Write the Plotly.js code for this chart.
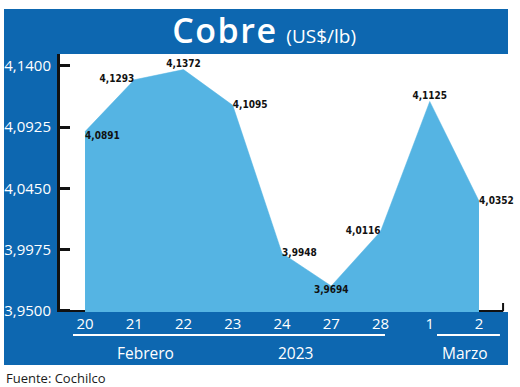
<!DOCTYPE html>
<html>
<head>
<meta charset="utf-8">
<script src="https://cdn.plot.ly/plotly-3.0.1.min.js"></script>
<style>
html,body{margin:0;padding:0;background:#fff;}
#chart{width:520px;height:387px;}
.textpoint text{font-stretch:condensed;}
</style>
</head>
<body>
<div id="chart"></div>
<script>
// ---- data ----
const categories = ['20', '21', '22', '23', '24', '27', '28', '1', '2'];
const values = [4.0891, 4.1293, 4.1372, 4.1095, 3.9948, 3.9694, 4.0116, 4.1125, 4.0352];
const yTickValues = [3.95, 3.9975, 4.045, 4.0925, 4.14];
const groupLabels = ['Febrero', '2023', 'Marzo'];
const titleText = 'Cobre';
const unitText = '(US$/lb)';
const sourceText = 'Fuente: Cochilco';

// ---- styling ----
const darkBlue = '#0d67b0';
const fillBlue = '#55b4e3';
const labelPos = ['bottom right', 'middle left', 'top center', 'middle right', 'middle right',
                  'bottom center', 'middle left', 'top center', 'middle right'];
const groupX = [0.19, 0.525, 0.904];
const axisFont = 'Open Sans, sans-serif';

const trace = {
  type: 'scatter',
  x: categories,
  y: values,
  mode: 'lines+text',
  fill: 'tozeroy',
  fillcolor: fillBlue,
  line: {color: fillBlue, width: 0.5},
  texttemplate: '%{y:.4f}',
  textposition: labelPos,
  textfont: {family: 'DejaVu Sans', size: 10, color: '#111', weight: 700},
  hoverinfo: 'skip',
  cliponaxis: false
};

const annotations = groupLabels.map((t, i) => ({
  text: t, xref: 'paper', yref: 'paper', x: groupX[i], y: -0.159,
  xanchor: 'center', yanchor: 'middle', showarrow: false,
  font: {family: axisFont, size: 15.5, color: '#fff'}
}));
annotations.push({
  text: sourceText, xref: 'paper', yref: 'paper', x: -0.125, y: (312 - 378) / 258,
  xanchor: 'left', yanchor: 'middle', showarrow: false,
  font: {family: 'Open Sans, sans-serif', size: 13, color: '#1a1a1a'}
});

const layout = {
  width: 520, height: 387,
  margin: {l: 60, r: 12, t: 54, b: 75, pad: 0},
  paper_bgcolor: '#ffffff',
  plot_bgcolor: 'rgba(0,0,0,0)',
  separators: ',.',
  showlegend: false,
  title: {
    text: "<span style='font-weight:600;letter-spacing:1.5px'>" + titleText + "</span> <span style='font-size:19px'>" + unitText + "</span>",
    font: {family: 'Open Sans, sans-serif', size: 34, color: '#ffffff'},
    xref: 'container', yref: 'container', x: 0.508, y: 1 - 31 / 387,
    xanchor: 'center', yanchor: 'middle'
  },
  xaxis: {
    type: 'category',
    range: [-0.508, 8.589],
    showgrid: false, zeroline: false,
    showline: false,
    ticks: '', ticklabelstandoff: 1,
    tickfont: {family: axisFont, size: 15, color: '#fff'},
    fixedrange: true
  },
  yaxis: {
    range: [3.9492, 4.1493],
    tickvals: yTickValues,
    tickformat: '.4f',
    showgrid: false, zeroline: false,
    showline: true, linecolor: '#111', linewidth: 3,
    ticks: 'inside', ticklen: 10, tickwidth: 3, tickcolor: '#111',
    ticklabelstandoff: 3,
    tickfont: {family: axisFont, size: 15, color: '#fff'},
    fixedrange: true
  },
  shapes: [
    {type: 'rect', xref: 'paper', yref: 'paper', x0: -0.125, x1: 1, y0: -0.2054, y1: 1.1744,
     fillcolor: darkBlue, line: {width: 0}, layer: 'below'},
    {type: 'rect', xref: 'paper', yref: 'paper', x0: 0, x1: 1, y0: 0, y1: 1,
     fillcolor: '#ffffff', line: {width: 0}, layer: 'below'},
    {type: 'line', xref: 'paper', yref: 'paper', x0: 0, x1: 0.989, y0: 0.004, y1: 0.004,
     line: {color: '#111', width: 2}, layer: 'below'},
    {type: 'line', xref: 'paper', yref: 'paper', x0: 0.989, x1: 0.989, y0: 0.003, y1: 0.035,
     line: {color: '#111', width: 2}, layer: 'below'},
    {type: 'line', xref: 'paper', yref: 'paper', x0: 0.029, x1: 0.7254, y0: -0.0891, y1: -0.0891,
     line: {color: '#ffffff', width: 2}},
    {type: 'line', xref: 'paper', yref: 'paper', x0: 0.8415, x1: 0.982, y0: -0.0891, y1: -0.0891,
     line: {color: '#ffffff', width: 2}}
  ],
  annotations: annotations
};

Plotly.newPlot('chart', [trace], layout, {displayModeBar: false, staticPlot: true});
</script>
</body>
</html>
